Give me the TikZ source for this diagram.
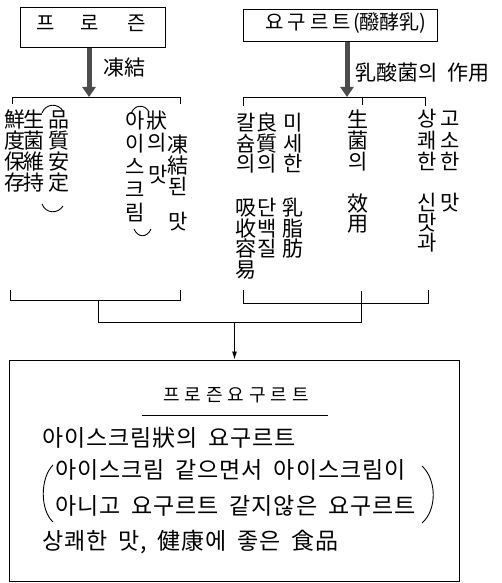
\documentclass[tikz,border=0pt]{standalone}
\usepackage{fontspec}
\usetikzlibrary{arrows.meta}
\newfontfamily\kr{Noto Sans CJK KR}[WordSpace=2.2]
\newfontfamily\krw{Noto Sans CJK KR}[WordSpace=1.8,LetterSpace=4]
\newcommand\vcol[5]{\foreach \ch [count=\i] in {#5} {\node[ch] (#1\i) at (#2,{#3+(\i-1)*#4}) {\ch};}}
\begin{document}
\begin{tikzpicture}[x=1pt,y=-1pt,
  ch/.style={font=\kr\fontsize{21}{21}\selectfont, inner sep=0pt, text height=0.88em, text depth=0.12em},
  txt/.style={font=\krw\fontsize{23}{23}\selectfont, inner sep=0pt, text height=0.88em, text depth=0.12em, anchor=west},
  box/.style={draw, line width=1pt, inner sep=0pt},
  brk/.style={line width=0.9pt},
  paren/.style={line width=0.9pt},
  bigarrow/.style={line width=5pt, black!70, -{Triangle[length=10pt,width=13pt]}},
  ]
\useasboundingbox (0,0) rectangle (502,583);

% top boxes
\node[box, minimum width=145pt, minimum height=40pt] (frozen) at (92.5,28) {};
\node[ch, font=\kr\fontsize{20}{20}\selectfont] (f1) at (46,27) {프};
\node[ch, font=\kr\fontsize{20}{20}\selectfont] (f2) at (90,27) {로};
\node[ch, font=\kr\fontsize{20}{20}\selectfont] (f3) at (137,27) {즌};

\node[box, minimum width=194pt, minimum height=32pt] (yog) at (340,26) {};
\node[ch, font=\kr\fontsize{20}{20}\selectfont] (yogt) at (346,26) {요\hspace{4pt}구\hspace{4pt}르\hspace{4pt}트\hspace{2pt}(醱酵乳)};

% big arrows
\coordinate (b1top) at (89,97);
\coordinate (b2top) at (347,97);
\draw[bigarrow] (frozen.south -| b1top) -- (b1top);
\draw[bigarrow] (yog.south -| b2top) -- (b2top);
\node[ch, font=\kr\fontsize{21}{21}\selectfont] (lab1) at (124,72) {凍結};
\node[ch, font=\kr\fontsize{21}{21}\selectfont, anchor=west] (lab2) at (355,77) {乳酸菌의 作用};

% top brackets
\coordinate (LA) at (12,97); \coordinate (LB) at (180,97);
\draw[brk] (12,104) -- (LA) -- (LB) -- (180,104);
\coordinate (RA) at (243,97); \coordinate (RB) at (425,97); \coordinate (RM) at (362,97);
\draw[brk] (243,106) -- (RA) -- (RB) -- (425,106);
\draw[brk] (RM) -- (362,105);

% left group columns
\vcol{a}{15}{124}{21}{鮮,度,保,存}
\vcol{b}{34}{124}{21}{生,菌,維,持}
\vcol{c}{59}{124}{21}{品,質,安,定}
\draw[paren] (42,113) .. controls (46,103) and (58,103) .. (63,111);
\draw[paren] (42,204) .. controls (46,214) and (58,214) .. (63,206);

\node[ch] (d1) at (135,125) {아};
\node[ch] (d2) at (135,148) {이};
\node[ch] (d3) at (135,171) {스};
\node[ch] (d4) at (135,194) {크};
\node[ch] (d5) at (135,217) {림};
\node[ch] (e1) at (157,125) {狀};
\node[ch] (e2) at (157,147) {의};
\node[ch] (e3) at (158,179) {맛};
\node[ch] (g1) at (178,149) {凍};
\node[ch] (g2) at (178,170) {結};
\node[ch] (g3) at (178,191) {된};
\node[ch] (g4) at (178,226) {맛};
\draw[paren] (131,114) .. controls (134,104) and (145,104) .. (149,112);
\draw[paren] (134,229) .. controls (138,238) and (147,238) .. (151,229);

% right group columns
\vcol{h}{246}{127}{20.5}{칼,슘,의}
\vcol{hh}{246}{212}{20.5}{吸,收,容,易}
\vcol{k}{267}{127}{20.5}{良,質,의}
\vcol{kk}{267}{212}{20.5}{단,백,질}
\vcol{m}{293}{127}{20.5}{미,세,한}
\vcol{mm}{293}{212}{20.5}{乳,脂,肪}
\vcol{n}{358}{124}{21}{生,菌,의}
\vcol{nn}{358}{208}{20}{效,用}
\vcol{p}{427}{123}{21.5}{상,쾌,한}
\vcol{pp}{427}{207}{20}{신,맛,과}
\vcol{q}{450}{123}{21.5}{고,소,한}
\node[ch] (qq1) at (450,207) {맛};

% bottom brackets
\coordinate (BL1) at (10,300); \coordinate (BL2) at (180,300);
\draw[brk] (10,290) -- (BL1) -- (BL2) -- (180,290);
\coordinate (BR1) at (243,303); \coordinate (BR2) at (428,303);
\draw[brk] (243,290) -- (BR1) -- (BR2) -- (428,290);
\coordinate (J1) at (98,322); \coordinate (J2) at (361,322);
\draw[brk] (361,291) -- (J2) -- (J1) -- (98,300);

% final box
\node[box, minimum width=450pt, minimum height=221pt] (final) at (234.5,470.5) {};
\coordinate (JA) at (234.5,322);
\draw[brk, -{Latex[length=8pt,width=5pt]}] (JA) -- (final.north);

\node[ch, font=\kr\fontsize{18}{18}\selectfont] (title) at (236,398) {프\hspace{5pt}로\hspace{5pt}즌\hspace{5pt}요\hspace{5pt}구\hspace{5pt}르\hspace{5pt}트};
\coordinate (U1) at (142,415); \coordinate (U2) at (328,415);
\draw[line width=0.8pt] (U1) -- (U2);

\node[txt] (l1) at (42,443) {아이스크림狀의 요구르트};
\node[txt] (l2) at (55,475) {아이스크림 같으면서 아이스크림이};
\node[txt] (l3) at (55,511) {아니고 요구르트 같지않은 요구르트};
\node[txt] (l4) at (42,546) {상쾌한 맛, 健康에 좋은 食品};
\draw[paren] (53,465) .. controls (40,478) and (40,510) .. (53,522);
\draw[paren] (422,466) .. controls (437,480) and (437,510) .. (422,523);
\end{tikzpicture}
\end{document}
